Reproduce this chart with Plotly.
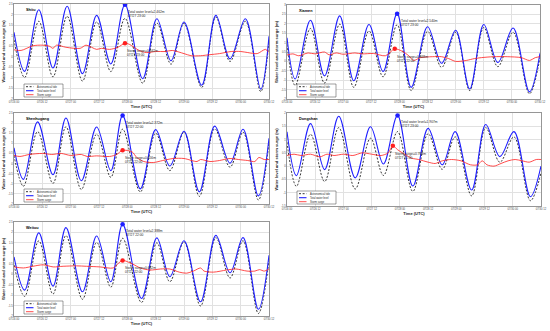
import pandas as pd
import plotly.graph_objects as go

BASE = pd.Timestamp("2023-07-26 00:00")
FIG_W, FIG_H = 550, 331
FONT = "Liberation Sans, Arial, sans-serif"

STATIONS = ["Shitu", "Xiamen", "Shenhugang", "Dongshan", "Weitou"]

# ---------------- data (hours after 07/26 00:00 UTC) ----------------
SHITU_HOURS = [0, 4.5, 10.5, 16.5, 22.5, 29, 35, 41, 47, 54.5, 60.5, 66.5, 72, 79.5, 85.5, 91.5, 98, 104.5, 108]
SHITU_TOTAL = [1.16, -0.69, 2.23, -0.53, 2.39, -0.80, 1.96, -0.34, 2.462, -1.04, 1.80, -0.19, 1.65, -1.35, 1.96, -0.10, 1.80, -1.53, 0.97]
SHITU_ASTRO = [0.80, -0.98, 1.68, -0.95, 1.92, -1.15, 1.65, -0.70, 1.82, -1.25, 1.60, -0.35, 1.58, -1.45, 1.88, -0.22, 1.68, -1.65, 0.78]
SHITU_SURGE_HOURS = [0, 3, 8, 12, 15, 16.5, 18, 22, 28, 30.5, 35, 37, 40.5, 44, 47, 49, 53, 56, 60, 64, 67, 72, 75, 79, 83, 87, 92, 96, 99, 103, 106.5, 108]
SHITU_SURGE = [0.33, 0.30, 0.52, 0.55, 0.50, 0.40, 0.55, 0.45, 0.40, 0.55, 0.35, 0.40, 0.35, 0.45, 0.642, 0.58, 0.30, 0.20, 0.25, 0.25, 0.30, 0.15, 0.05, 0.05, 0.10, 0.15, 0.25, 0.25, 0.20, 0.15, 0.35, 0.20]

XIAMEN_HOURS = [0, 3.5, 10, 16, 22.5, 28.5, 35, 41, 47, 53, 60, 66, 72, 78, 84, 90, 96.5, 103.5, 108]
XIAMEN_TOTAL = [1.26, -0.94, 2.19, -0.77, 2.42, -1.03, 1.96, -0.54, 2.540, -1.38, 1.84, -0.10, 1.66, -1.47, 1.96, -0.06, 1.78, -1.62, 0.43]
XIAMEN_ASTRO = [0.90, -1.28, 1.75, -1.15, 1.98, -1.38, 1.62, -0.82, 1.95, -1.55, 1.60, -0.32, 1.55, -1.55, 1.80, -0.28, 1.55, -1.72, 0.20]
XIAMEN_SURGE_HOURS = [0, 2.5, 5, 9, 12, 16, 18, 21, 24, 29, 32, 37, 42, 46, 49, 52, 54, 57, 62, 66, 69, 72, 76.5, 80, 83, 88, 94, 100, 103.5, 106, 108]
XIAMEN_SURGE = [0.34, 0.40, 0.30, 0.45, 0.40, 0.50, 0.35, 0.45, 0.38, 0.45, 0.40, 0.42, 0.30, 0.668, 0.55, 0.30, 0.05, 0.20, 0.25, 0.25, 0.15, 0.00, 0.05, 0.15, 0.20, 0.25, 0.25, 0.20, 0.05, 0.20, 0.25]

SHENHUGANG_HOURS = [0, 4, 10, 16.5, 22, 28.5, 35, 41, 46, 53.5, 60, 66, 72, 78.5, 85, 91.5, 97, 103.5, 108]
SHENHUGANG_TOTAL = [0.78, -0.78, 2.06, -0.55, 2.25, -0.85, 1.81, -0.35, 2.372, -1.25, 1.68, -0.12, 1.60, -1.40, 1.85, 0.02, 1.70, -1.60, 1.25]
SHENHUGANG_ASTRO = [0.40, -1.12, 1.58, -0.98, 1.82, -1.28, 1.45, -0.68, 1.70, -1.40, 1.50, -0.35, 1.55, -1.62, 1.72, -0.18, 1.55, -1.80, 1.05]
SHENHUGANG_SURGE_HOURS = [0, 2.5, 6.5, 12, 16, 20, 24, 28.5, 31, 35, 40.5, 43.5, 46, 50, 52, 55, 59, 63, 67.5, 72, 77.5, 79, 83, 87, 91.5, 95, 99, 102, 103.7, 106, 108]
SHENHUGANG_SURGE = [0.40, 0.35, 0.45, 0.50, 0.45, 0.50, 0.40, 0.45, 0.35, 0.38, 0.35, 0.45, 0.656, 0.58, 0.30, 0.10, 0.05, 0.15, 0.25, 0.25, 0.10, 0.20, 0.10, 0.15, 0.25, 0.20, 0.15, 0.10, 0.30, 0.20, 0.20]

DONGSHAN_HOURS = [0, 4, 10, 16, 22, 29, 35.5, 41, 47, 53.5, 60, 66, 71.5, 78.5, 84.5, 90.5, 96.5, 103.5, 108]
DONGSHAN_TOTAL = [1.29, -0.36, 1.60, -0.13, 1.88, -0.44, 1.48, 0.08, 1.907, -0.75, 1.42, 0.05, 1.30, -0.90, 1.57, 0.36, 1.30, -1.15, 0.00]
DONGSHAN_ASTRO = [0.90, -0.76, 1.20, -0.58, 1.45, -0.86, 1.05, -0.35, 1.30, -0.95, 1.22, -0.12, 1.10, -1.12, 1.45, 0.15, 1.10, -1.30, -0.25]
DONGSHAN_SURGE_HOURS = [0, 3, 6, 10, 14, 17, 20, 24, 28, 32, 36, 40, 43, 45, 47, 50, 53, 56, 60, 63, 66, 70, 74, 78, 81, 83, 85, 88, 91, 94, 97, 100, 103, 106, 108]
DONGSHAN_SURGE = [0.40, 0.45, 0.40, 0.45, 0.35, 0.45, 0.40, 0.45, 0.40, 0.50, 0.45, 0.40, 0.50, 0.768, 0.62, 0.45, 0.30, 0.25, 0.15, 0.10, 0.20, 0.25, 0.20, 0.05, 0.05, 0.20, 0.05, 0.00, 0.10, 0.20, 0.25, 0.20, 0.15, 0.25, 0.25]

WEITOU_HOURS = [0, 4.5, 10.5, 16.5, 22, 29, 35, 41, 46, 54, 60.5, 66, 72, 79, 85.5, 91.5, 97, 103.5, 108]
WEITOU_TOTAL = [0.83, -0.76, 1.98, -0.57, 2.23, -0.84, 1.83, -0.36, 2.388, -1.16, 1.74, -0.12, 1.60, -1.32, 1.86, 0.07, 1.75, -1.68, 0.91]
WEITOU_ASTRO = [0.45, -1.06, 1.60, -0.95, 1.85, -1.20, 1.52, -0.62, 1.72, -1.35, 1.50, -0.36, 1.55, -1.52, 1.75, -0.18, 1.60, -1.88, 0.66]
WEITOU_SURGE_HOURS = [0, 4, 8, 12.3, 16.6, 20.8, 26.5, 30.7, 36.4, 42, 44, 46, 50, 53.5, 57.6, 62, 66, 70, 73, 76, 79, 80.5, 84.5, 90, 94, 98.7, 102, 104, 106, 108]
WEITOU_SURGE = [0.35, 0.30, 0.38, 0.45, 0.35, 0.38, 0.40, 0.38, 0.35, 0.30, 0.50, 0.662, 0.50, 0.30, 0.20, 0.25, 0.25, 0.10, 0.05, 0.15, 0.30, 0.15, 0.10, 0.20, 0.25, 0.15, 0.15, 0.22, 0.15, 0.25]

# peak annotations: (hour, value, time label)
TOTAL_PEAKS = {
    "Shitu": (47, 2.462, "07/27 23:00"),
    "Xiamen": (47, 2.540, "07/27 23:00"),
    "Shenhugang": (46, 2.372, "07/27 22:00"),
    "Dongshan": (47, 1.907, "07/27 23:00"),
    "Weitou": (46, 2.388, "07/27 22:00"),
}
SURGE_PEAKS = {
    "Shitu": (47, 0.642, "07/27 23:00"),
    "Xiamen": (46, 0.668, "07/27 22:00"),
    "Shenhugang": (46, 0.656, "07/27 22:00"),
    "Dongshan": (45, 0.768, "07/27 21:00"),
    "Weitou": (46, 0.662, "07/27 22:00"),
}

Y_TICKS = {
    "Shitu": [-2, -1.5, -1, -0.5, 0, 0.5, 1, 1.5, 2, 2.5],
    "Xiamen": [-2, -1.5, -1, -0.5, 0, 0.5, 1, 1.5, 2, 2.5, 3],
    "Shenhugang": [-2, -1.5, -1, -0.5, 0, 0.5, 1, 1.5, 2, 2.5],
    "Dongshan": [-1.5, -1, -0.5, 0, 0.5, 1, 1.5, 2],
    "Weitou": [-2, -1.5, -1, -0.5, 0, 0.5, 1, 1.5, 2, 2.5],
}

SERIES = {
    "Shitu": (SHITU_HOURS, SHITU_TOTAL, SHITU_ASTRO, SHITU_SURGE_HOURS, SHITU_SURGE),
    "Xiamen": (XIAMEN_HOURS, XIAMEN_TOTAL, XIAMEN_ASTRO, XIAMEN_SURGE_HOURS, XIAMEN_SURGE),
    "Shenhugang": (SHENHUGANG_HOURS, SHENHUGANG_TOTAL, SHENHUGANG_ASTRO, SHENHUGANG_SURGE_HOURS, SHENHUGANG_SURGE),
    "Dongshan": (DONGSHAN_HOURS, DONGSHAN_TOTAL, DONGSHAN_ASTRO, DONGSHAN_SURGE_HOURS, DONGSHAN_SURGE),
    "Weitou": (WEITOU_HOURS, WEITOU_TOTAL, WEITOU_ASTRO, WEITOU_SURGE_HOURS, WEITOU_SURGE),
}

LEGEND_LABELS = ["Astronomical tide", "Total water level", "Storm surge"]

# ---------------- layout (pixel boxes of the panels) ----------------
PANEL_BOX = {  # left, top, right, bottom in px
    "Shitu": (14, 4, 269, 99),
    "Xiamen": (287, 5, 540, 99),
    "Shenhugang": (14, 113, 269, 204),
    "Dongshan": (287, 113, 541, 206),
    "Weitou": (14, 222, 269, 316),
}

BLUE = "rgb(30,30,255)"
RED = "rgb(255,30,30)"
BLACK = "rgb(30,30,30)"
GRID = "rgb(225,225,225)"
FRAME = "rgb(150,150,150)"
TICK_COLOR = "rgb(70,70,70)"


def t(hours):
    return [BASE + pd.Timedelta(hours=h) for h in hours]


fig = go.Figure()
shapes, annotations = [], []

for i, st in enumerate(STATIONS):
    sfx = "" if i == 0 else str(i + 1)
    xa, ya = "x" + sfx, "y" + sfx
    hours, total, astro, s_hours, surge = SERIES[st]

    fig.add_trace(go.Scatter(x=t(hours), y=astro, mode="lines", xaxis=xa, yaxis=ya,
                             line=dict(color=BLACK, width=0.9, dash="2px,1.6px", shape="spline"),
                             showlegend=False, name=LEGEND_LABELS[0]))
    fig.add_trace(go.Scatter(x=t(hours), y=total, mode="lines", xaxis=xa, yaxis=ya,
                             line=dict(color=BLUE, width=1.1, shape="spline"),
                             showlegend=False, name=LEGEND_LABELS[1]))
    fig.add_trace(go.Scatter(x=t(s_hours), y=surge, mode="lines", xaxis=xa, yaxis=ya,
                             line=dict(color=RED, width=0.8, shape="spline", smoothing=0.8),
                             showlegend=False, name=LEGEND_LABELS[2]))

    th, tv, tl = TOTAL_PEAKS[st]
    sh, sv, sl = SURGE_PEAKS[st]
    fig.add_trace(go.Scatter(x=t([th]), y=[tv], mode="markers", xaxis=xa, yaxis=ya,
                             marker=dict(color=BLUE, size=4.5), showlegend=False))
    fig.add_trace(go.Scatter(x=t([sh]), y=[sv], mode="markers", xaxis=xa, yaxis=ya,
                             marker=dict(color=RED, size=4.5), showlegend=False))

    annotations.append(dict(x=t([th])[0], y=tv, xref=xa, yref=ya, showarrow=False,
                            text=f"Total water level={tv:.3f}m<br>{tl}",
                            xanchor="left", yanchor="top", align="left", xshift=1.5, yshift=-3,
                            font=dict(size=3.3, color="rgb(40,40,40)", family=FONT)))
    annotations.append(dict(x=t([sh])[0], y=sv, xref=xa, yref=ya, showarrow=False,
                            text=f"Storm surge={sv:.3f}m<br>{sl}",
                            xanchor="left", yanchor="top", align="left", xshift=0.5, yshift=-4,
                            font=dict(size=3.3, color="rgb(40,40,40)", family=FONT)))

    l, tp, r, b = PANEL_BOX[st]
    dom_x = [l / FIG_W, r / FIG_W]
    dom_y = [1 - b / FIG_H, 1 - tp / FIG_H]
    ticks = Y_TICKS[st]
    fig.update_layout({
        "xaxis" + sfx: dict(domain=dom_x, anchor=ya, type="date",
                            range=[BASE, BASE + pd.Timedelta(hours=108)],
                            tick0=BASE, dtick=12 * 3600 * 1000, tickformat="%m/%d %H",
                            showgrid=True, gridcolor=GRID, gridwidth=0.5,
                            showline=True, mirror=True, linecolor=FRAME, linewidth=0.6,
                            ticks="", tickfont=dict(size=2.7, family=FONT, color=TICK_COLOR),
                            title=dict(text="<b>Time (UTC)</b>", standoff=2,
                                       font=dict(size=4, family=FONT, color="rgb(30,30,30)")),
                            automargin=False, zeroline=False),
        "yaxis" + sfx: dict(domain=dom_y, anchor=xa, range=[ticks[0], ticks[-1]],
                            tickvals=ticks, ticktext=[f"{v:g}" for v in ticks],
                            showgrid=True, gridcolor=GRID, gridwidth=0.5,
                            showline=True, mirror=True, linecolor=FRAME, linewidth=0.6,
                            ticks="", tickfont=dict(size=2.7, family=FONT, color=TICK_COLOR),
                            title=dict(text="<b>Water level and storm surge (m)</b>", standoff=2,
                                       font=dict(size=4.1, family=FONT, color="rgb(30,30,30)")),
                            automargin=False, zeroline=False),
    })

    # station title
    pw, ph = r - l, b - tp
    annotations.append(dict(x=10 / pw, y=1 - 6 / ph, xref=xa + " domain", yref=ya + " domain",
                            text=f"<b>{st}</b>", showarrow=False, xanchor="left", yanchor="middle",
                            font=dict(size=3.8, family=FONT, color="black")))

    # legend box
    fx = lambda px: px / pw
    fy = lambda px: px / ph
    shapes.append(dict(type="rect", xref=xa + " domain", yref=ya + " domain",
                       x0=fx(10), x1=fx(49), y0=fy(2), y1=fy(15),
                       line=dict(color="rgb(60,60,60)", width=0.5), fillcolor="white", layer="above"))
    styles = [dict(color=BLACK, width=0.9, dash="2px,1.6px"),
              dict(color=BLUE, width=1.1), dict(color=RED, width=0.8)]
    for k, (lab, sty) in enumerate(zip(LEGEND_LABELS, styles)):
        yy = fy(12.3 - 4 * k)
        shapes.append(dict(type="line", xref=xa + " domain", yref=ya + " domain",
                           x0=fx(12), x1=fx(19.5), y0=yy, y1=yy, line=sty, layer="above"))
        annotations.append(dict(x=fx(21), y=yy, xref=xa + " domain", yref=ya + " domain",
                                text=lab, showarrow=False, xanchor="left", yanchor="middle",
                                font=dict(size=2.6, family=FONT, color="rgb(40,40,40)")))

fig.update_layout(width=FIG_W, height=FIG_H, margin=dict(l=0, r=0, t=0, b=0),
                  paper_bgcolor="white", plot_bgcolor="white",
                  shapes=shapes, annotations=annotations, showlegend=False,
                  font=dict(family=FONT))

fig.write_html("out.html", config={"displayModeBar": False},
               post_script="document.body.style.margin='0';document.body.style.overflow='hidden';")
